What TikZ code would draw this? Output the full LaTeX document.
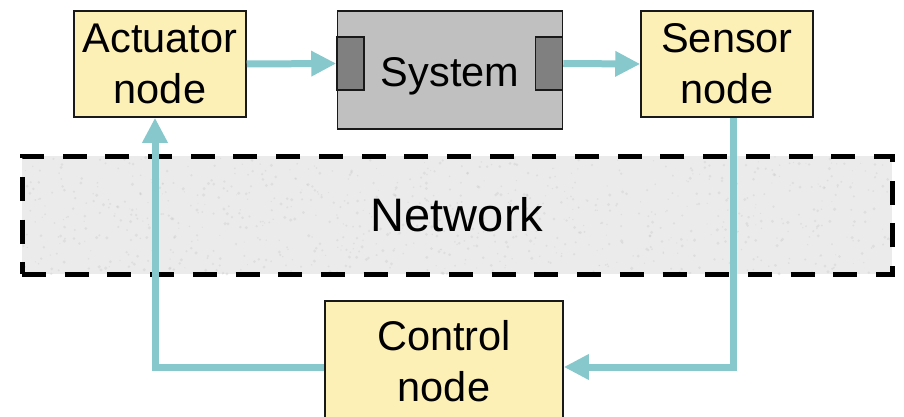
\documentclass[tikz,border=0pt]{standalone}
\usepackage{fontspec}
\setmainfont{Liberation Sans}
\usetikzlibrary{arrows.meta,positioning,calc}
\definecolor{nodeyellow}{HTML}{FDF0B6}
\definecolor{linkteal}{HTML}{86C8CC}
\definecolor{plantgray}{HTML}{C0C0C0}
\definecolor{portgray}{HTML}{808080}
\definecolor{netgray}{HTML}{EBEBEB}

\tikzset{
  box/.style={draw=black!90, line width=1.5pt, fill=nodeyellow, align=center,
    minimum width=172pt, minimum height=106pt, inner sep=0pt},
  port/.style={draw=black!90, line width=1.5pt, fill=portgray,
    minimum width=27pt, minimum height=53pt, inner sep=0pt},
  link/.style={draw=linkteal, line width=7pt},
  arrow/.style={link, -{Triangle[length=25pt,width=24pt]}},
}

\begin{document}
\begin{tikzpicture}[x=1pt, y=1pt, font=\fontsize{41.5}{51}\selectfont]
  \clip (0,0) rectangle (904,416);

  % the plant with its two ports
  \node[draw=black!90, line width=1.5pt, fill=plantgray, minimum width=225pt,
        minimum height=118pt, inner sep=0pt] (sys) at (450,346) {};
  \node[port] (lport) at (350.5,352.5) {};
  \node[port] (rport) at (549,352.5) {};
  \node (systxt) at (450,340) {System};

  \node[box] (act) at (160,352) {Actuator\\node};
  \node[box] (sens) at (727,352) {Sensor\\node};

  % the shared network, a speckled grey band
  \node[fill=netgray, minimum width=870pt, minimum height=118pt] (netbg) at (457,201) {};
  \pgfmathsetseed{11}
  \foreach \i in {1,...,900}
    \fill[gray!45, opacity=0.35] ($(netbg.south west)+(870*rnd,118*rnd)$) circle (0.5+1.2*rnd);
  \node[draw=black, line width=5pt, dash pattern=on 24pt off 18.7pt,
        minimum width=870pt, minimum height=118pt,
        font=\fontsize{47}{56}\selectfont] (net) at (457,201) {Network};

  \node[box, minimum width=238pt, minimum height=121pt] (ctrl) at (444,54.5) {Control\\node};

  % signal paths
  \draw[arrow] (act.east) -- (lport.west);
  \draw[arrow] (rport.east) -- (sens.west);
  \draw[arrow] ([xshift=6pt]sens.south) |- ([yshift=-5.5pt]ctrl.east);
  \draw[arrow] ([yshift=-5.5pt]ctrl.west) -| ([xshift=-5pt]act.south);
\end{tikzpicture}
\end{document}
